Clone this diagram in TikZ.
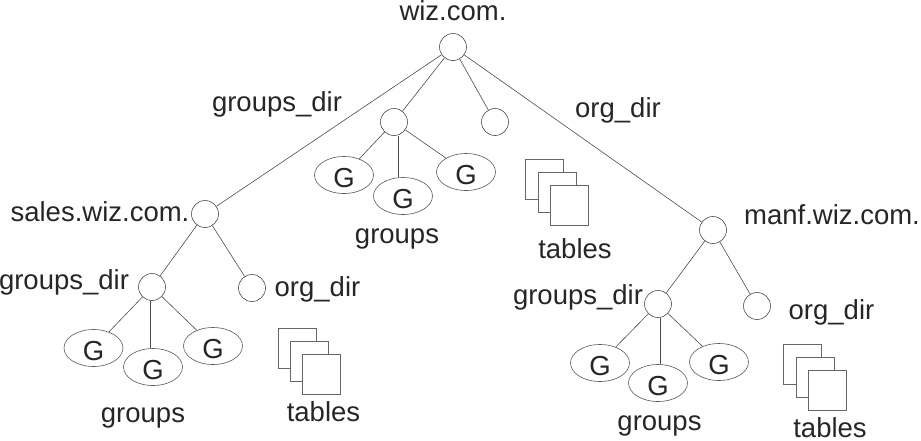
\documentclass[tikz,border=0pt]{standalone}
\usepackage{fontspec}
\setmainfont{Liberation Sans}
\usetikzlibrary{positioning,shapes.geometric}
\begin{document}
\begin{tikzpicture}[x=1pt,y=1pt,on grid,font=\fontsize{27.5}{30}\selectfont,
dirnode/.style={draw=black!70,circle,line width=.6pt,minimum size=27pt,inner sep=0pt},
gnode/.style={draw=black!65,ellipse,line width=.6pt,minimum width=59pt,minimum height=37pt,inner sep=0pt,text height=24pt,text depth=0pt,text=black!85},
tabpage/.style={draw=black!60,fill=white,line width=.8pt,minimum width=38pt,minimum height=40pt,inner sep=0pt},
lbl/.style={inner sep=0pt,text height=19.5pt,text depth=5.5pt,text=black!85},
lnk/.style={black!70,line width=.6pt}]
\useasboundingbox (0,0) rectangle (921,-440);
\node[dirnode] (root) at (453,-47) {};
\node[lbl,above=34pt of root] (rootname) {wiz.com.};
\node[dirnode,below left=75pt and 59pt of root] (groups) {};
\node[dirnode,below right=75pt and 42pt of root] (org) {};
\node[dirnode,below left=167pt and 248pt of root] (sales) {};
\node[dirnode,below right=183pt and 260pt of root] (manf) {};
\node[lbl,above left=18pt and 117pt of groups] (groupsname) {groups\_dir};
\node[lbl,above right=12pt and 123pt of org] (orgname) {org\_dir};
\node[lbl,left=105pt of sales] (salesname) {sales.wiz.com.};
\node[lbl,above right=13pt and 119pt of manf] (manfname) {manf.wiz.com.};
\node[gnode,below left=53pt and 50pt of groups] (ga) {G};
\node[gnode,below right=74pt and 9pt of groups] (gb) {G};
\node[gnode,below right=50pt and 72pt of groups] (gc) {G};
\node[lbl,below left=40pt and 6pt of gb] (gname) {groups};
\node[tabpage,below right=57.5pt and 49.5pt of org] (ta) {};
\node[tabpage,below right=13pt and 12.5pt of ta] (tb) {};
\node[tabpage,below right=13pt and 12pt of tb] (tc) {};
\node[lbl,below right=46pt and 6pt of tc] (tname) {tables};
\node[dirnode,below left=73pt and 53pt of sales] (sgroups) {};
\node[dirnode,below right=74pt and 47pt of sales] (sorg) {};
\node[lbl,above left=5pt and 88pt of sgroups] (sgroupsname) {groups\_dir};
\node[lbl,below right=1pt and 65.5pt of sorg] (sorgname) {org\_dir};
\node[gnode,below left=61pt and 58.5pt of sgroups] (sga) {G};
\node[gnode,below right=80pt and 1pt of sgroups] (sgb) {G};
\node[gnode,below right=59pt and 61pt of sgroups] (sgc) {G};
\node[lbl,below left=48pt and 10pt of sgb] (sgname) {groups};
\node[tabpage,below right=60pt and 45pt of sorg] (sta) {};
\node[tabpage,below right=13pt and 12.5pt of sta] (stb) {};
\node[tabpage,below right=13pt and 12pt of stb] (stc) {};
\node[lbl,below right=40pt and 2pt of stc] (stname) {tables};
\node[dirnode,below left=74pt and 55pt of manf] (mgroups) {};
\node[dirnode,below right=76pt and 44pt of manf] (morg) {};
\node[lbl,above left=7pt and 80pt of mgroups] (mgroupsname) {groups\_dir};
\node[lbl,below right=6pt and 74.5pt of morg] (morgname) {org\_dir};
\node[gnode,below left=59pt and 58pt of mgroups] (mga) {G};
\node[gnode,below=79pt of mgroups] (mgb) {G};
\node[gnode,below right=58pt and 61pt of mgroups] (mgc) {G};
\node[lbl,below right=40pt and 1.5pt of mgb] (mgname) {groups};
\node[tabpage,below right=58pt and 45.5pt of morg] (mta) {};
\node[tabpage,below right=13pt and 12.5pt of mta] (mtb) {};
\node[tabpage,below right=13pt and 12pt of mtb] (mtc) {};
\node[lbl,text height=14pt,text depth=0pt,below right=40pt and 3pt of mtc] (mtname) {tables};
\draw[lnk] (root)--(groups);\draw[lnk] (root)--(org);\draw[lnk] (root)--(sales);\draw[lnk] (root)--(manf);
\draw[lnk] (groups)--(ga);\draw[lnk] ([xshift=4pt]groups.south)--([xshift=-5pt]gb.north);\draw[lnk] (groups)--(gc);
\draw[lnk] (sales)--(sgroups);\draw[lnk] (sales)--(sorg);
\draw[lnk] (sgroups)--(sga);\draw[lnk] ([xshift=-2pt]sgroups.south)--([xshift=-3pt]sgb.north);\draw[lnk] (sgroups)--(sgc);
\draw[lnk] (manf)--(mgroups);\draw[lnk] (manf)--(morg);
\draw[lnk] (mgroups)--(mga);\draw[lnk] ([xshift=2pt]mgroups.south)--([xshift=2pt]mgb.north);\draw[lnk] (mgroups)--(mgc);
\end{tikzpicture}
\end{document}
